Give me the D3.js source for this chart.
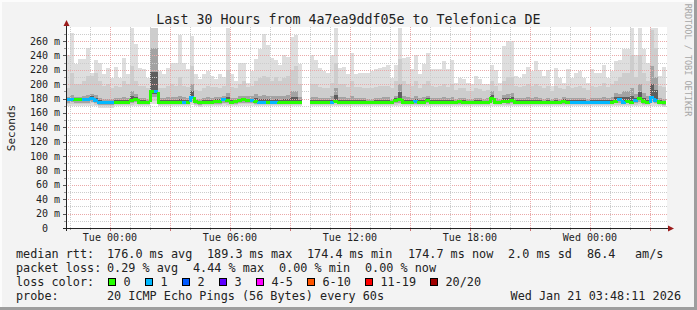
<!DOCTYPE html>
<html>
<head>
<meta charset="utf-8">
<script src="https://cdn.jsdelivr.net/npm/d3@7"></script>
<style>
html, body { margin: 0; padding: 0; background: #f3f3f3; }
svg { display: block; }
svg text { font-family: "DejaVu Sans Mono", monospace; white-space: pre; }
</style>
</head>
<body>
<svg id="chart" width="697" height="310"></svg>
<script>
// values (one entry per 12 minute step)
var endTime = new Date(2026, 0, 21, 3, 48, 11);
var spanHours = 30;
var stepMinutes = 12;

var medianMs = [
	178, 178.5, 178, 178, 178, 178, 180.5, 177, 175, 175,
	175, 175, 175, 175, 175, 175, 177.5, 179, 175, 175,
	175, 189.5, 189.5, 175, 175, 175, 175, 175, 175, 175,
	175, 181.5, 175.5, 174, 175, 175, 175, 176, 176, 178,
	177, 175, 176, 177, 178, 177, 177, 175.5, 175, 175,
	175, 175, 175, 174.7, 174.7, 174.7, 174.7, 174.7, 174.7, null,
	null, 175, 175, 175, 175, 175, 175, 176.5, 175, 175,
	175, 175, 175, 175, 175, 174.7, 174.7, 174.7, 174.7, 174.7,
	174.7, 174.7, 177, 179, 175, 175, 175, 176, 175, 175,
	177, 175, 175, 175, 175, 175, 175, 175, 176, 175,
	175, 174.5, 175, 175, 174.2, 174.2, 180.7, 174, 174, 176.5,
	176, 177.5, 175, 175, 175, 175, 175, 175, 175, 175,
	175, 175, 175, 175, 176, 175, 175, 175, 175, 175,
	175, 175, 175, 175, 175, 175, 175, 176.5, 178, 175,
	176.5, 175, 177.5, 179.5, 175.5, 174, 181, 177.5, 175, 174.2
];

var lossPct = [
	1.25, 0.83, 0, 0, 0.42, 0.83, 1.67, 0.83, 1.25, 0.83,
	0.42, 0.83, 0, 0, 0, 0, 0, 0, 0, 0,
	0, 0, 4.44, 0, 0, 0, 0, 0, 0, 0.42,
	0, 2.08, 0, 0, 0, 0, 0, 0, 0, 0.83,
	0, 0, 0, 0, 0, 0, 0.42, 0, 0.83, 0.42,
	0, 0.83, 0.42, 0, 0, 0, 0, 0, 0, null,
	null, 0, 0, 0, 0, 0, 0.42, 0, 0, 0,
	0, 0, 0, 0, 0, 0, 0, 0, 0, 0,
	0, 0, 0, 0, 0, 0, 0, 0.83, 0, 0,
	0, 0, 0, 0, 0, 0, 0, 0, 0, 0,
	0, 0, 0, 0, 0, 0, 0, 0, 0, 0,
	0, 0, 0, 0, 0, 0, 0, 0, 0, 0,
	0, 0, 0, 0, 0, 0, 0.83, 1.25, 0.83, 1.25,
	0.83, 1.25, 0.42, 0.83, 0.83, 0.42, 0, 0, 0.83, 0.42,
	0, 0, 1.25, 0, 0, 0, 2.5, 1.25, 0, 0
];

// highest ping of the step (outer smoke)
var smokeTop = [
	240, 271, 228, 235, 235, 250, 216, 233, 230, 214,
	223, 209, 224, 209, 236, 214, 278, 256, 223, 221,
	209, 278, 278, 219, 214, 223, 230, 230, 269, 230,
	221, 267, 214, 207, 214, 219, 212, 207, 214, 210,
	278, 214, 205, 230, 229, 202, 219, 235, 249, 270,
	255, 237, 233, 226, 240, 238, 266, 269, 228, null,
	null, 241, 233, 223, 219, 215, 240, 278, 223, 224,
	214, 243, 214, 215, 216, 216, 219, 221, 223, 224,
	226, 209, 226, 278, 237, 238, 221, 241, 214, 228,
	243, 221, 221, 221, 232, 221, 233, 201, 209, 207,
	201, 200, 212, 207, 200, 200, 227, 220, 201, 253,
	260, 260, 212, 209, 214, 224, 219, 232, 220, 212,
	220, 198, 223, 209, 202, 221, 209, 216, 219, 209,
	202, 221, 216, 215, 227, 209, 219, 232, 233, 249,
	249, 278, 240, 278, 249, 229, 278, 278, 212, 224
];

// upper edge of the medium grey smoke
var smokeMid = [
	195, 215, 200, 200, 205, 212, 212, 215, 205, 198,
	200, 195, 198, 196, 205, 200, 225, 205, 198, 198,
	195, 278, 278, 195, 195, 198, 200, 198, 210, 198,
	196, 225, 192, 190, 195, 198, 196, 196, 195, 198,
	220, 196, 195, 200, 205, 196, 198, 205, 208, 212,
	210, 205, 210, 205, 208, 212, 220, 225, 200, null,
	null, 200, 200, 196, 195, 195, 202, 230, 200, 200,
	196, 205, 196, 196, 195, 195, 195, 196, 198, 198,
	198, 195, 205, 235, 205, 200, 198, 205, 195, 200,
	205, 198, 196, 198, 200, 196, 200, 192, 195, 195,
	190, 190, 195, 193, 190, 192, 205, 198, 190, 205,
	210, 210, 198, 196, 198, 200, 198, 200, 198, 195,
	198, 190, 198, 195, 193, 198, 195, 196, 198, 195,
	192, 198, 196, 198, 202, 196, 200, 205, 210, 215,
	215, 240, 210, 240, 215, 205, 275, 250, 198, 196
];

// upper edge of the dark smoke core
var smokeCore = [
	182, 185, 182, 182, 183, 185, 186, 185, 181, 180,
	180, 180, 181, 181, 182, 181, 190, 186, 181, 181,
	180, 250, 250, 181, 181, 182, 182, 182, 184, 182,
	181, 200, 180, 179, 181, 182, 181, 182, 182, 183,
	188, 181, 181, 183, 184, 183, 183, 186, 184, 185,
	184, 183, 184, 183, 184, 185, 190, 190, 182, null,
	null, 182, 182, 181, 181, 181, 183, 195, 182, 182,
	181, 183, 181, 181, 181, 180, 180, 181, 181, 182,
	182, 180, 184, 200, 183, 182, 181, 184, 181, 182,
	184, 181, 181, 181, 182, 181, 182, 180, 181, 181,
	180, 180, 181, 181, 180, 181, 190, 181, 180, 185,
	186, 188, 181, 181, 181, 182, 181, 182, 181, 180,
	181, 179, 181, 180, 182, 181, 181, 181, 181, 181,
	180, 181, 181, 181, 182, 181, 182, 188, 186, 190,
	190, 195, 186, 200, 188, 183, 225, 210, 181, 180
];

// lowest ping of the step
var smokeLow = [
	170, 170, 170, 170, 170, 170, 170, 169, 167, 167,
	167, 167, 169, 169, 169, 169, 169, 170, 169, 169,
	169, 172, 172, 169, 169, 169, 169, 169, 169, 169,
	169, 171, 169, 168, 169, 169, 169, 169, 169, 170,
	169, 169, 169, 170, 170, 170, 170, 169, 169, 169,
	169, 169, 169, 169, 169, 169, 169, 169, 169, null,
	null, 169, 169, 169, 169, 169, 169, 169, 169, 169,
	169, 169, 169, 169, 169, 169, 169, 169, 169, 169,
	169, 169, 169, 169, 169, 169, 169, 169, 169, 169,
	169, 169, 169, 169, 169, 169, 169, 169, 169, 169,
	169, 169, 169, 169, 169, 169, 169, 169, 169, 169,
	169, 169, 169, 169, 169, 169, 169, 169, 169, 169,
	169, 169, 169, 169, 169, 169, 169, 169, 169, 169,
	169, 169, 169, 169, 169, 169, 169, 169, 169, 169,
	169, 169, 169, 169, 169, 169, 170, 170, 169, 168
];

var yTicks = [0, 20, 40, 60, 80, 100, 120, 140, 160, 180, 200, 220, 240, 260];
var xTickTimes = ["2026-01-20 00:00", "2026-01-20 06:00", "2026-01-20 12:00", "2026-01-20 18:00", "2026-01-21 00:00"];
var xTickLabels = ["Tue 00:00", "Tue 06:00", "Tue 12:00", "Tue 18:00", "Wed 00:00"];

var lossLabels = ["0", "1", "2", "3", "4-5", "6-10", "11-19", "20/20"];
var lossLimits = [0, 1, 2, 3, 5, 10, 19, 20];
var lossColors = ["#26ff00", "#00b8ff", "#0059ff", "#5e00ff", "#ff00ff", "#ff5500", "#ff0000", "#a00000"];

var titleText = "Last 30 Hours from 4a7ea9ddf05e to Telefonica DE";
var rttLegend = [[16, "median rtt:"], [107, "176.0 ms avg"], [207, "189.3 ms max"], [307, "174.4 ms min"], [408, "174.7 ms now"], [508, "2.0 ms sd"], [587, "86.4"], [635, "am/s"]];
var lossLegend = [[16, "packet loss:"], [107, "0.29 % avg"], [193, "4.44 % max"], [279, "0.00 % min"], [365, "0.00 % now"]];
var probeText = "20 ICMP Echo Pings (56 Bytes) every 60s";
var stampText = "Wed Jan 21 03:48:11 2026";

// ---- layout ----
var W = 697, H = 310;
var plotL = 66, plotR = 666, plotT = 28, plotB = 228;
var svg = d3.select("#chart");
var parseTime = d3.timeParse("%Y-%m-%d %H:%M");

var startTime = d3.timeHour.offset(endTime, -spanHours);
var x = d3.scaleTime().domain([startTime, endTime]).range([plotL, plotR]);
var y = d3.scaleLinear().domain([0, 278.1]).range([plotB, plotT]);

function stepStart(i) { return x(d3.timeMinute.offset(startTime, i * stepMinutes)); }
function stepEnd(i) { return x(d3.timeMinute.offset(startTime, (i + 1) * stepMinutes)); }

function lossColor(pct) {
	var pings = pct / 100 * 20;
	for (var k = 0; k < lossLimits.length; k++) {
		if (pings <= lossLimits[k]) return lossColors[k];
	}
	return lossColors[lossColors.length - 1];
}

// frame
svg.append("rect").attr("width", W).attr("height", H).attr("fill", "#f3f3f3");
svg.append("rect").attr("x", 0).attr("y", 0).attr("width", W).attr("height", 2).attr("fill", "#fcfcfc");
svg.append("rect").attr("x", 0).attr("y", 0).attr("width", 2).attr("height", H).attr("fill", "#fcfcfc");
svg.append("rect").attr("x", W - 3).attr("y", 0).attr("width", 3).attr("height", H).attr("fill", "#9e9e9e");
svg.append("rect").attr("x", 0).attr("y", H - 3).attr("width", W).attr("height", 3).attr("fill", "#9e9e9e");

// canvas
svg.append("rect").attr("x", plotL).attr("y", plotT - 1).attr("width", plotR - plotL + 1).attr("height", plotB - plotT + 1).attr("fill", "#ffffff");

// smoke, outer to inner
var idx = d3.range(medianMs.length).filter(function(i) { return medianMs[i] != null; });
var bands = [
	{ color: "#dedede", lowF: 0, up: function(i) { return smokeTop[i]; } },
	{ color: "#cdcdcd", lowF: 0.3, up: function(i) { return smokeMid[i]; } },
	{ color: "#a3a3a3", lowF: 0.55, up: function(i) { return smokeCore[i]; } },
	{ color: "#5e5e5e", lowF: 0.8, up: function(i) { return medianMs[i] + (smokeCore[i] - medianMs[i]) * 0.45; } }
];
var smoke = svg.append("g");
bands.forEach(function(b) {
	smoke.selectAll(null)
		.data(idx)
		.enter().append("rect")
		.attr("x", function(i) { return stepStart(i); })
		.attr("width", function(i) { return stepEnd(i) - stepStart(i); })
		.attr("y", function(i) { return y(b.up(i)); })
		.attr("height", function(i) {
			var lo = smokeLow[i] + (medianMs[i] - smokeLow[i]) * b.lowF;
			return Math.max(0, y(lo) - y(b.up(i)));
		})
		.attr("fill", b.color)
		.attr("shape-rendering", "crispEdges");
});

// grid
var grid = svg.append("g").attr("shape-rendering", "crispEdges");
d3.range(10, 280, 10).forEach(function(v) {
	grid.append("line")
		.attr("x1", plotL).attr("x2", plotR + 2)
		.attr("y1", Math.round(y(v)) + 0.5).attr("y2", Math.round(y(v)) + 0.5)
		.attr("stroke", v % 20 == 0 ? "#eaa8a8" : "#cccccc")
		.attr("stroke-dasharray", "1,1");
});
d3.timeHour.range(d3.timeHour.ceil(startTime), endTime).forEach(function(t) {
	var px = Math.round(x(t)) + 0.5;
	var major = t.getHours() % 3 == 0;
	grid.append("line")
		.attr("x1", px).attr("x2", px)
		.attr("y1", plotT - 1).attr("y2", plotB)
		.attr("stroke", major ? "#eaa8a8" : "#cccccc")
		.attr("stroke-dasharray", "1,1");
	grid.append("line")
		.attr("x1", px).attr("x2", px)
		.attr("y1", plotB).attr("y2", plotB + (major ? 3 : 2))
		.attr("stroke", major ? "#d07070" : "#999999");
});

// median line coloured by loss
var med = svg.append("g");
idx.forEach(function(i) {
	var x0 = stepStart(i), x1 = stepEnd(i);
	var prev = medianMs[i - 1];
	var d = prev != null ? "M" + x0 + "," + y(prev) + "V" + y(medianMs[i]) + "H" + x1
		: "M" + x0 + "," + y(medianMs[i]) + "H" + x1;
	med.append("path")
		.attr("d", d)
		.attr("fill", "none")
		.attr("stroke", lossColor(lossPct[i]))
		.attr("stroke-width", 3)
		.attr("shape-rendering", "crispEdges");
});

// axes
var axis = svg.append("g").attr("shape-rendering", "crispEdges");
axis.append("line").attr("x1", plotL + 0.5).attr("x2", plotL + 0.5).attr("y1", plotB + 3).attr("y2", 22).attr("stroke", "#222");
axis.append("line").attr("x1", plotL - 3).attr("x2", 670).attr("y1", plotB + 0.5).attr("y2", plotB + 0.5).attr("stroke", "#222");
d3.range(10, 280, 10).forEach(function(v) {
	axis.append("line")
		.attr("x1", plotL - (v % 20 == 0 ? 3 : 2)).attr("x2", plotL)
		.attr("y1", Math.round(y(v)) + 0.5).attr("y2", Math.round(y(v)) + 0.5)
		.attr("stroke", v % 20 == 0 ? "#555555" : "#999999");
});
svg.append("path").attr("d", "M63.5,26 L66.5,20 L69.5,26 Z").attr("fill", "#9b1b1b");
svg.append("path").attr("d", "M668,225.5 L674,228.5 L668,231.5 Z").attr("fill", "#9b1b1b");

// y tick labels
svg.append("g").selectAll("text")
	.data(yTicks)
	.enter().append("text")
	.attr("x", 60)
	.attr("y", function(v) { return y(v) + 3.5; })
	.attr("text-anchor", "end")
	.attr("font-size", "10px")
	.attr("fill", "#222")
	.text(function(v) { return v == 0 ? "0  " : v + " m"; });

// x tick labels
svg.append("g").selectAll("text")
	.data(xTickTimes)
	.enter().append("text")
	.attr("x", function(t) { return x(parseTime(t)); })
	.attr("y", 241)
	.attr("text-anchor", "middle")
	.attr("font-size", "10px")
	.attr("fill", "#222")
	.text(function(t, i) { return xTickLabels[i]; });

// title, axis title, watermark
svg.append("text").attr("x", 348.5).attr("y", 23.5).attr("text-anchor", "middle")
	.attr("font-size", "13.3px").attr("fill", "#222").text(titleText);
svg.append("text").attr("transform", "translate(14.5,128) rotate(-90)").attr("text-anchor", "middle")
	.attr("font-size", "11px").attr("fill", "#222").text("Seconds");
svg.append("text").attr("transform", "translate(685,60) rotate(90)").attr("text-anchor", "middle")
	.attr("font-size", "8.5px").attr("fill", "#a6a6a6").text("RRDTOOL / TOBI OETIKER");

// legend
var legend = svg.append("g").attr("font-size", "11.8px").attr("fill", "#222");
function legendRow(items, baseY) {
	items.forEach(function(it) {
		legend.append("text").attr("x", it[0]).attr("y", baseY).text(it[1]);
	});
}
legendRow(rttLegend, 258);
legendRow(lossLegend, 272);
legendRow([[16, "loss color:"]], 286);

var bx = 108.5;
lossLabels.forEach(function(lbl, k) {
	legend.append("rect")
		.attr("x", bx).attr("y", 278.5).attr("width", 7).attr("height", 7)
		.attr("fill", lossColors[k]).attr("stroke", "#000").attr("stroke-width", 1)
		.attr("shape-rendering", "crispEdges");
	var t = legend.append("text").attr("x", bx + 15).attr("y", 286).text(lbl);
	bx = Math.round(bx + 15 + t.node().getComputedTextLength() + 14.4) + 0.5;
});

legendRow([[16, "probe:"], [107, probeText]], 300);
legend.append("text").attr("x", 681).attr("y", 300).attr("text-anchor", "end").text(stampText);
</script>
</body>
</html>
